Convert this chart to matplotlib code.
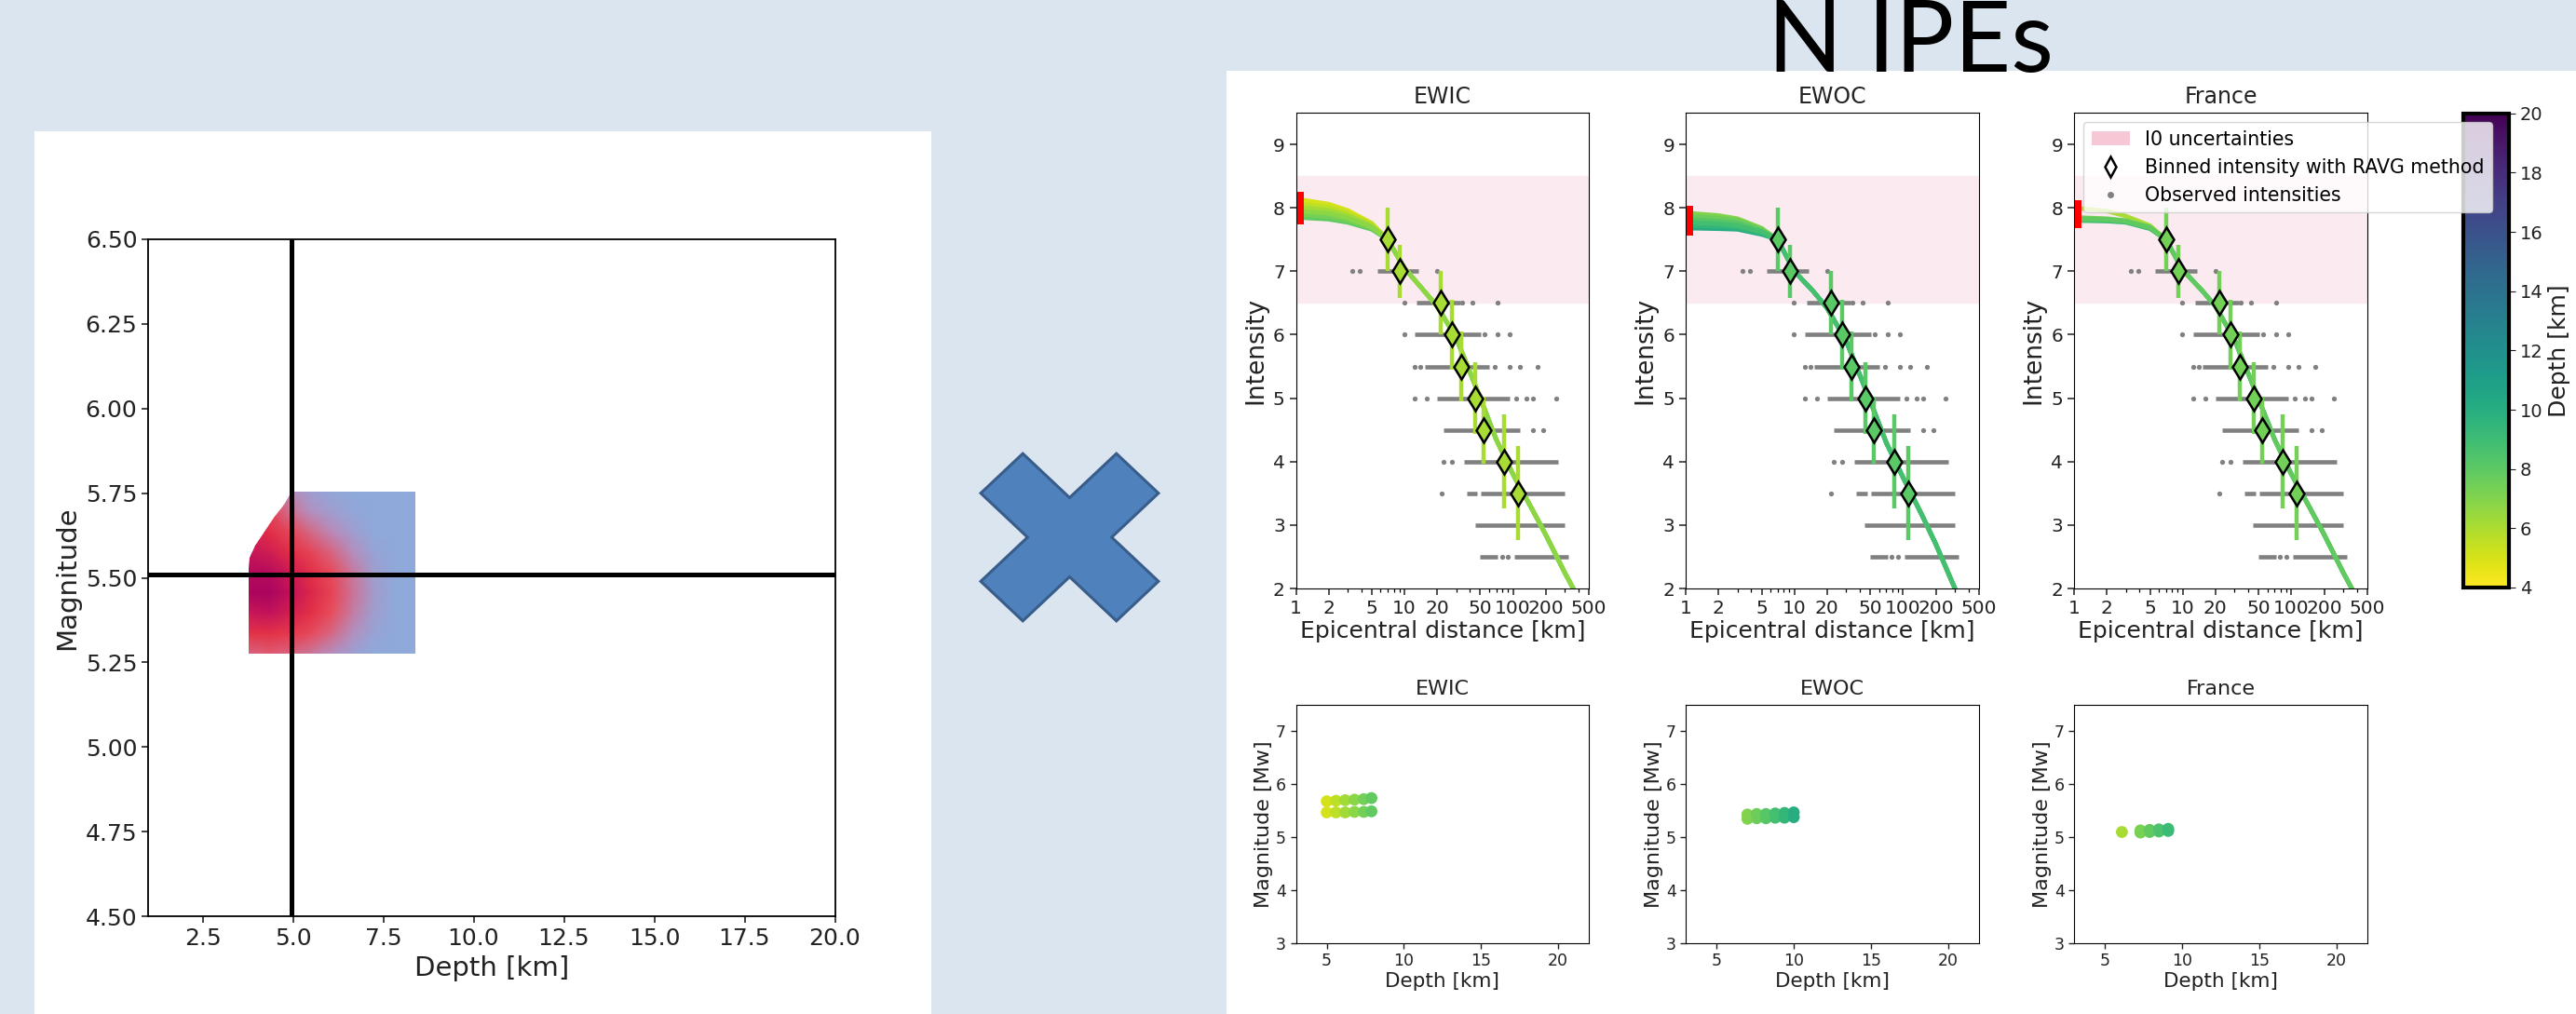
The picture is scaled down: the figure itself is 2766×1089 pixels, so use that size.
import numpy as np
import matplotlib
matplotlib.use("Agg")
import matplotlib.pyplot as plt
from matplotlib.patches import Rectangle, Polygon, Patch
from matplotlib.lines import Line2D
from matplotlib.colors import LinearSegmentedColormap, Normalize
from matplotlib.cm import ScalarMappable
from matplotlib.ticker import FixedLocator, NullFormatter, LogLocator

# ---------------- data ----------------
# left panel: probability field over (depth, magnitude)
depth_nodes = [3.77, 4.35, 4.93, 5.51, 6.09, 6.67, 7.24, 7.82, 8.40]
mag_nodes = [5.275, 5.335, 5.395, 5.455, 5.515, 5.575, 5.635, 5.695, 5.755]
prob = [
    [0.36, 0.40, 0.36, 0.28, 0.17, 0.06, 0.00, 0.00, 0.00],
    [0.62, 0.64, 0.58, 0.48, 0.34, 0.17, 0.04, 0.00, 0.00],
    [0.82, 0.85, 0.76, 0.64, 0.46, 0.26, 0.08, 0.00, 0.00],
    [0.95, 0.97, 0.86, 0.70, 0.52, 0.30, 0.10, 0.00, 0.00],
    [0.92, 0.91, 0.80, 0.65, 0.48, 0.28, 0.08, 0.00, 0.00],
    [0.84, 0.78, 0.66, 0.52, 0.36, 0.19, 0.04, 0.00, 0.00],
    [0.74, 0.66, 0.50, 0.34, 0.21, 0.08, 0.00, 0.00, 0.00],
    [0.64, 0.56, 0.32, 0.17, 0.08, 0.02, 0.00, 0.00, 0.00],
    [0.55, 0.46, 0.20, 0.07, 0.02, 0.00, 0.00, 0.00, 0.00],
]
edge_depth = [3.77, 3.80, 3.96, 4.21, 4.46, 4.75, 4.95]
edge_mag = [5.53, 5.56, 5.595, 5.637, 5.678, 5.716, 5.755]
best_depth = 4.97
best_mag = 5.51

# intensity panels
ipe_names = ["EWIC", "EWOC", "France"]
near_dist = [1, 2, 3, 5]
far_dist = [7, 10, 15, 20, 30, 50, 70, 100, 150, 200, 300, 400, 500]

ewic_depths = [5.0, 5.6, 6.2, 6.8, 7.4, 7.9]
ewic_near = [[8.14, 8.06, 7.96, 7.76], [8.07, 8.01, 7.92, 7.74], [8.01, 7.96, 7.88, 7.72],
             [7.95, 7.91, 7.84, 7.70], [7.90, 7.86, 7.80, 7.68], [7.85, 7.82, 7.77, 7.66]]
ewic_far = [7.50, 7.05, 6.70, 6.45, 5.95, 5.00, 4.35, 3.80, 3.25, 2.85, 2.25, 1.85, 1.50]

ewoc_depths = [7.0, 7.6, 8.2, 8.8, 9.4, 10.0]
ewoc_near = [[7.92, 7.88, 7.83, 7.68], [7.87, 7.84, 7.80, 7.66], [7.82, 7.79, 7.76, 7.64],
             [7.77, 7.75, 7.72, 7.62], [7.72, 7.71, 7.69, 7.60], [7.68, 7.67, 7.66, 7.58]]
ewoc_far = [7.50, 7.00, 6.68, 6.42, 5.90, 4.95, 4.30, 3.75, 3.15, 2.70, 2.00, 1.50, 1.10]

france_depths = [6.1, 7.3, 7.9, 8.5, 9.1]
france_near = [[8.00, 7.95, 7.87, 7.72], [7.85, 7.83, 7.80, 7.70], [7.83, 7.82, 7.79, 7.69],
               [7.81, 7.80, 7.78, 7.68], [7.80, 7.79, 7.77, 7.67]]
france_far = [7.50, 7.02, 6.70, 6.45, 5.92, 4.98, 4.35, 3.80, 3.25, 2.85, 2.25, 1.85, 1.50]

# binned intensities (RAVG)
bin_dist = [7.0, 9.1, 21.6, 27.4, 33.5, 45.3, 54.0, 83.0, 112.0]
bin_int = [7.5, 7.0, 6.5, 6.0, 5.5, 5.0, 4.5, 4.0, 3.5]
bin_err = [0.50, 0.42, 0.50, 0.55, 0.55, 0.57, 0.53, 0.74, 0.74]

# observed intensities: dense runs and isolated points per level
obs_levels = [7.0, 6.5, 6.0, 5.5, 5.0, 4.5, 4.0, 3.5, 3.0, 2.5]
obs_runs = [
    [(5.6, 13.5)],
    [(12.9, 32.7)],
    [(12.4, 50.7)],
    [(15.3, 60.5)],
    [(20.1, 94.0)],
    [(22.9, 117.0)],
    [(35.7, 260.0)],
    [(37.3, 46.5), (50.8, 297.0)],
    [(44.5, 297.0)],
    [(49.6, 72.0), (103.0, 324.0)],
]
obs_dots = [
    [3.3, 3.9, 20.1],
    [9.9, 34.0, 42.5, 72.0],
    [9.9, 55.0, 72.0, 94.0],
    [12.4, 14.1, 68.5, 94.0, 117.0, 167.0],
    [12.4, 16.1, 107.0, 134.0, 152.0, 248.0],
    [152.0, 190.0],
    [22.9, 27.3],
    [21.9],
    [],
    [79.0, 90.0],
]

# bottom scatter: depth vs magnitude
ewic_sc_depth = [5.0, 5.6, 6.2, 6.8, 7.4, 7.9, 5.0, 5.6, 6.2, 6.8, 7.4, 7.9]
ewic_sc_mag = [5.47, 5.47, 5.47, 5.48, 5.48, 5.49, 5.68, 5.69, 5.70, 5.71, 5.72, 5.74]
ewoc_sc_depth = [7.0, 7.6, 8.2, 8.8, 9.4, 10.0, 7.0, 7.6, 8.2, 8.8, 9.4, 10.0]
ewoc_sc_mag = [5.35, 5.36, 5.36, 5.37, 5.37, 5.38, 5.43, 5.44, 5.44, 5.45, 5.46, 5.47]
france_sc_depth = [6.1, 7.3, 7.9, 8.5, 9.1, 7.3, 7.9, 8.5, 9.1]
france_sc_mag = [5.10, 5.09, 5.10, 5.11, 5.12, 5.13, 5.14, 5.15, 5.16]

# ---------------- figure ----------------
W, H = 2766, 1089
fig = plt.figure(figsize=(W / 100, H / 100), dpi=100)
fig.patch.set_facecolor("#DAE5F0")


def box(x0, y0, x1, y1):
    # pixel box (top-left origin) -> figure fraction rect
    return [x0 / W, 1 - y1 / H, (x1 - x0) / W, (y1 - y0) / H]


# white slide panels
for x0, y0, x1, y1 in [(37, 141, 1000, 1089), (1317, 76, 2766, 1089)]:
    fig.patches.append(Rectangle((x0 / W, 1 - y1 / H), (x1 - x0) / W, (y1 - y0) / H,
                                 transform=fig.transFigure, facecolor="white",
                                 edgecolor="none", zorder=-5))

# big blue cross between the panels
L, a = 1.0, 0.31
plus = np.array([(a, a), (a, L), (-a, L), (-a, a), (-L, a), (-L, -a),
                 (-a, -a), (-a, -L), (a, -L), (a, -a), (L, -a), (L, a)])
c = np.cos(np.pi / 4)
rot = plus @ np.array([[c, c], [-c, c]])
cx, cy = 1148.5, 577
verts = np.column_stack([(cx + rot[:, 0] * 103) / W, 1 - (cy + rot[:, 1] * 97) / H])
fig.patches.append(Polygon(verts, closed=True, transform=fig.transFigure,
                           facecolor="#4F81BD", edgecolor="#385D8A", lw=2.2, zorder=1))

fig.text(1898 / W, 1 - 77 / H, "N IPEs", fontsize=76, family="Lato",
         ha="left", va="baseline", color="black")

# ---------------- left panel ----------------
prob_cmap = LinearSegmentedColormap.from_list(
    "prob", [(0.0, "#8FA9DB"), (0.2, "#B88CBC"), (0.45, "#E8505F"),
             (0.65, "#E32F45"), (0.85, "#C4145A"), (1.0, "#A30060")])

axL = fig.add_axes(box(159.3, 256.7, 896.5, 984.3))
X, Y = np.meshgrid(depth_nodes, mag_nodes)
mesh = axL.pcolormesh(X, Y, np.array(prob), shading="gouraud", cmap=prob_cmap,
                      vmin=0, vmax=1, zorder=1)
clip_pts = ([(depth_nodes[0], mag_nodes[0]), (depth_nodes[-1], mag_nodes[0]),
             (depth_nodes[-1], mag_nodes[-1])]
            + list(zip(edge_depth[::-1], edge_mag[::-1])))
clip_patch = Polygon(clip_pts, closed=True, transform=axL.transData)
mesh.set_clip_path(clip_patch)
axL.axvline(best_depth, color="black", lw=3.6, zorder=3)
axL.axhline(best_mag, color="black", lw=3.6, zorder=3)
axL.set_xlim(1, 20)
axL.set_ylim(4.5, 6.5)
axL.set_xticks([2.5, 5.0, 7.5, 10.0, 12.5, 15.0, 17.5, 20.0])
axL.set_xticklabels(["2.5", "5.0", "7.5", "10.0", "12.5", "15.0", "17.5", "20.0"])
axL.set_yticks([4.5, 4.75, 5.0, 5.25, 5.5, 5.75, 6.0, 6.25, 6.5])
axL.set_yticklabels(["4.50", "4.75", "5.00", "5.25", "5.50", "5.75", "6.00", "6.25", "6.50"])
axL.tick_params(labelsize=18, length=5, width=1.2, colors="#222222")
axL.set_xlabel("Depth [km]", fontsize=21, color="#222222")
axL.set_ylabel("Magnitude", fontsize=21, color="#222222")
for sp in axL.spines.values():
    sp.set_linewidth(1.3)

# ---------------- right panel: IPE fits ----------------
depth_cmap = plt.get_cmap("viridis_r")
depth_norm = Normalize(vmin=4, vmax=20)

col_x = [(1391.5, 1706), (1810, 2125), (2227, 2542)]
panels = [
    (ewic_depths, ewic_near, ewic_far, ewic_sc_depth, ewic_sc_mag),
    (ewoc_depths, ewoc_near, ewoc_far, ewoc_sc_depth, ewoc_sc_mag),
    (france_depths, france_near, france_far, france_sc_depth, france_sc_mag),
]
gray = "#808080"
span_col = "#FBEBF1"
top_axes = []
for k, (name, (x0, x1), (depths, near, far, sc_d, sc_m)) in enumerate(zip(ipe_names, col_x, panels)):
    ax = fig.add_axes(box(x0, 121, x1, 632))
    top_axes.append(ax)
    ax.axhspan(6.5, 8.5, color=span_col, zorder=0)
    for lev, runs, dots in zip(obs_levels, obs_runs, obs_dots):
        for r0, r1 in runs:
            ax.hlines(lev, r0, r1, color=gray, lw=3.3, zorder=1)
        if dots:
            ax.plot(dots, [lev] * len(dots), "o", color=gray, ms=3.8, mew=0, zorder=1)
    i0s = [n[0] for n in near]
    ax.plot([1] * len(i0s), i0s, "s", color="red", ms=11, mew=0, zorder=2.5)
    # outer depths first, the middle one ends on top of the band
    mid = np.median(depths)
    order = sorted(range(len(depths)), key=lambda i: -abs(depths[i] - mid))
    for i in order:
        ax.plot(near_dist + far_dist, near[i] + far, color=depth_cmap(depth_norm(depths[i])),
                lw=3.4, zorder=2, solid_capstyle="butt")
    mean_col = depth_cmap(depth_norm(np.mean(depths) - 0.4))
    ax.errorbar(bin_dist, bin_int, yerr=bin_err, fmt="none", ecolor=mean_col,
                elinewidth=3.2, capsize=0, zorder=3)
    ax.plot(bin_dist, bin_int, "d", mfc=mean_col, mec="black", mew=1.8, ms=13,
            ls="none", zorder=4)
    ax.set_xscale("log")
    ax.set_xlim(1, 500)
    ax.set_ylim(2, 9.5)
    ax.xaxis.set_major_locator(FixedLocator([1, 2, 5, 10, 20, 50, 100, 200, 500]))
    ax.set_xticklabels(["1", "2", "5", "10", "20", "50", "100", "200", "500"])
    ax.xaxis.set_minor_locator(LogLocator(base=10, subs=np.arange(2, 10)))
    ax.xaxis.set_minor_formatter(NullFormatter())
    ax.set_yticks([2, 3, 4, 5, 6, 7, 8, 9])
    ax.tick_params(labelsize=14.5, length=5, width=1.1, colors="#222222")
    ax.tick_params(which="minor", length=3, width=0.9)
    ax.set_xlabel("Epicentral distance [km]", fontsize=18, color="#222222", labelpad=2)
    ax.set_ylabel("Intensity", fontsize=19, color="#222222")
    ax.set_title(name, fontsize=17, color="#222222", pad=7)

    axb = fig.add_axes(box(x0, 757, x1, 1013))
    axb.scatter(sc_d, sc_m, c=sc_d, cmap=depth_cmap, norm=depth_norm, s=85,
                edgecolors="none", zorder=2)
    axb.set_xlim(3, 22)
    axb.set_ylim(3, 7.5)
    axb.set_xticks([5, 10, 15, 20])
    axb.set_yticks([3, 4, 5, 6, 7])
    axb.tick_params(labelsize=12.5, length=4, width=1.0, colors="#222222")
    axb.set_xlabel("Depth [km]", fontsize=15.5, color="#222222", labelpad=2)
    axb.set_ylabel("Magnitude [Mw]", fontsize=16, color="#222222", labelpad=2)
    axb.set_title(name, fontsize=16, color="#222222", pad=8)

axF = top_axes[2]
axF.set_zorder(3)
handles = [Patch(facecolor="#F6C8D6", edgecolor="none"),
           Line2D([], [], ls="none", marker="d", mfc="white", mec="black", mew=1.8, ms=11),
           Line2D([], [], ls="none", marker="o", color=gray, ms=5, mew=0)]
labels = ["I0 uncertainties", "Binned intensity with RAVG method", "Observed intensities"]
axF.legend(handles, labels, loc="upper left", fontsize=14.8, framealpha=0.8,
           borderaxespad=0.5, handlelength=2.0)

cax = fig.add_axes(box(2645, 121.7, 2694, 631))
cb = fig.colorbar(ScalarMappable(norm=depth_norm, cmap=depth_cmap), cax=cax)
cb.set_ticks([4, 6, 8, 10, 12, 14, 16, 18, 20])
cb.ax.tick_params(labelsize=14, length=5, colors="#222222")
cb.outline.set_linewidth(3)
cb.set_label("Depth [km]", fontsize=18, color="#222222")

fig.savefig("out.png", dpi=100, facecolor=fig.get_facecolor())
